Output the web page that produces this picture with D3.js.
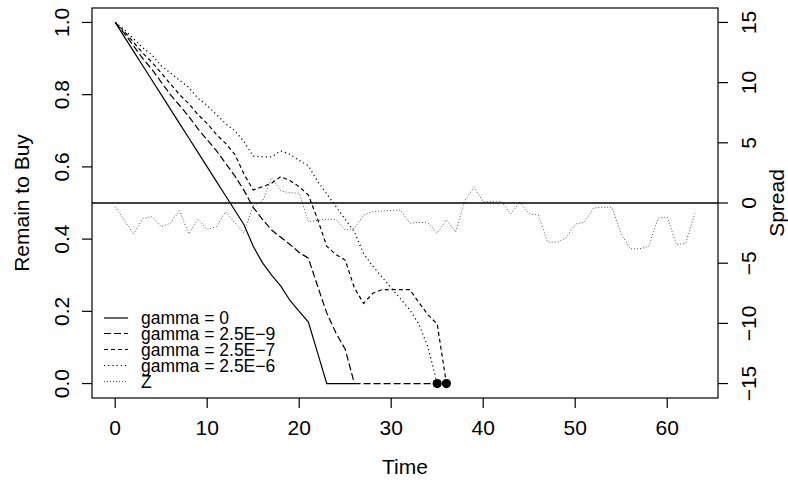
<!DOCTYPE html>
<html>
<head>
<meta charset="utf-8">
<script src="https://cdn.jsdelivr.net/npm/d3@7"></script>
<style>
  html, body { margin: 0; padding: 0; background: #fff; }
  svg { display: block; font-family: "Liberation Sans", Arial, Helvetica, sans-serif; }
</style>
</head>
<body>
<svg id="chart" width="788" height="480"></svg>
<script>
// ---- data ----
const xTicks = [0, 10, 20, 30, 40, 50, 60];
const leftTicks = [0, 0.2, 0.4, 0.6, 0.8, 1.0];
const rightTicks = [-15, -10, -5, 0, 5, 10, 15];

const gamma0 = [1, .96, .92, .88, .84, .80, .76, .72, .68, .64, .60, .56, .52, .48, .44, .38, .335, .30, .27, .23, .20, .17, .085, 0, 0, 0, 0];
const gamma25e9 = [1, .97, .935, .90, .87, .835, .80, .77, .74, .705, .675, .645, .61, .575, .535, .488, .455, .425, .405, .385, .363, .347, .27, .195, .14, .095, 0, 0, 0, 0, 0, 0, 0, 0, 0, 0];
const gamma25e7 = [1, .975, .945, .915, .89, .86, .83, .80, .775, .745, .72, .69, .665, .635, .58, .536, .545, .555, .573, .562, .545, .522, .455, .38, .357, .342, .265, .222, .25, .26, .26, .26, .26, .225, .19, .165, 0];
const gamma25e6 = [1, .98, .955, .93, .91, .88, .86, .84, .82, .79, .77, .745, .72, .70, .67, .63, .628, .628, .644, .635, .618, .603, .56, .525, .49, .455, .42, .36, .325, .295, .265, .235, .205, .165, .10, 0];
const spreadZ = [-0.3, -1.45, -2.58, -1.28, -1.14, -1.97, -1.69, -0.64, -2.58, -1.36, -2.19, -1.97, -0.72, -1.64, -2.5, -0.2, 0.1, 2.1, 1.0, 0.85, 0.8, -1.55, -1.45, -1.35, -1.35, -2.25, -2.1, -1.0, -0.72, -0.68, -0.62, -0.58, -1.68, -1.6, -1.65, -2.5, -1.41, -2.4, 0.2, 1.3, 0.11, 0.11, 0.11, -0.9, 0.08, -0.9, -1.0, -3.25, -3.25, -2.9, -1.75, -1.6, -0.4, -0.36, -0.36, -2.6, -3.8, -3.8, -3.6, -1.27, -1.15, -3.45, -3.35, -0.86];
const endPoints = [[35, 0], [36, 0]];
const legendLabels = ["gamma = 0", "gamma = 2.5E\u22129", "gamma = 2.5E\u22127", "gamma = 2.5E\u22126", "Z"];

// ---- layout ----
const box = { left: 92, right: 718, top: 8, bottom: 398 };
const svg = d3.select("#chart");
const fs = 21;

const x = d3.scaleLinear().domain([-2.52, 65.52]).range([box.left, box.right]);
const yL = d3.scaleLinear().domain([-0.04, 1.04]).range([box.bottom, box.top]);
const yR = d3.scaleLinear().domain([-16.2, 16.2]).range([box.bottom, box.top]);

const series = [
  { vals: gamma0, dash: null, w: 1.2, color: "#000" },
  { vals: gamma25e9, dash: "7,3", w: 1.2, color: "#000" },
  { vals: gamma25e7, dash: "4,3", w: 1.2, color: "#000" },
  { vals: gamma25e6, dash: "1.2,3", w: 1.2, color: "#000" },
];
const zStyle = { dash: "1,2", w: 1, color: "#555" };

// Z line (right axis)
const lineR = d3.line().x((d, i) => x(i)).y(d => yR(d));
svg.append("path").datum(spreadZ)
  .attr("d", lineR).attr("fill", "none")
  .attr("stroke", zStyle.color).attr("stroke-width", zStyle.w)
  .attr("stroke-dasharray", zStyle.dash);

// horizontal reference
svg.append("line")
  .attr("x1", box.left).attr("x2", box.right)
  .attr("y1", yL(0.5)).attr("y2", yL(0.5))
  .attr("stroke", "#000").attr("stroke-width", 1.3);

// gamma lines
const lineL = d3.line().x((d, i) => x(i)).y(d => yL(d));
series.forEach(s => {
  svg.append("path").datum(s.vals)
    .attr("d", lineL).attr("fill", "none")
    .attr("stroke", s.color).attr("stroke-width", s.w)
    .attr("stroke-dasharray", s.dash);
});

// end points
svg.selectAll("circle.end").data(endPoints).enter().append("circle")
  .attr("cx", d => x(d[0])).attr("cy", d => yL(d[1]))
  .attr("r", 4.6).attr("fill", "#000");

// box
svg.append("rect")
  .attr("x", box.left).attr("y", box.top)
  .attr("width", box.right - box.left).attr("height", box.bottom - box.top)
  .attr("fill", "none").attr("stroke", "#000").attr("stroke-width", 1.2);

// bottom axis
const gx = svg.append("g");
gx.selectAll("line").data(xTicks).enter().append("line")
  .attr("x1", d => x(d)).attr("x2", d => x(d))
  .attr("y1", box.bottom).attr("y2", box.bottom + 10)
  .attr("stroke", "#000").attr("stroke-width", 1.2);
gx.selectAll("text").data(xTicks).enter().append("text")
  .attr("x", d => x(d)).attr("y", 435)
  .attr("text-anchor", "middle").attr("font-size", fs)
  .text(d => d);
svg.append("text").attr("x", (box.left + box.right) / 2).attr("y", 474)
  .attr("text-anchor", "middle").attr("font-size", fs).text("Time");

// left axis
const gl = svg.append("g");
gl.selectAll("line").data(leftTicks).enter().append("line")
  .attr("x1", box.left - 10).attr("x2", box.left)
  .attr("y1", d => yL(d)).attr("y2", d => yL(d))
  .attr("stroke", "#000").attr("stroke-width", 1.2);
gl.selectAll("text").data(leftTicks).enter().append("text")
  .attr("transform", d => `translate(69,${yL(d)}) rotate(-90)`)
  .attr("text-anchor", "middle").attr("font-size", fs)
  .text(d => d3.format(".1f")(d));
svg.append("text")
  .attr("transform", `translate(29,${(box.top + box.bottom) / 2}) rotate(-90)`)
  .attr("text-anchor", "middle").attr("font-size", fs).text("Remain to Buy");

// right axis
const gr = svg.append("g");
gr.selectAll("line").data(rightTicks).enter().append("line")
  .attr("x1", box.right).attr("x2", box.right + 10)
  .attr("y1", d => yR(d)).attr("y2", d => yR(d))
  .attr("stroke", "#000").attr("stroke-width", 1.2);
gr.selectAll("text").data(rightTicks).enter().append("text")
  .attr("transform", d => `translate(756,${yR(d)}) rotate(-90)`)
  .attr("text-anchor", "middle").attr("font-size", fs)
  .text(d => d < 0 ? "\u2212" + Math.abs(d) : d);
svg.append("text")
  .attr("transform", `translate(784,${(box.top + box.bottom) / 2}) rotate(-90)`)
  .attr("text-anchor", "middle").attr("font-size", fs).text("Spread");

// legend
const legStyles = series.map(s => ({ dash: s.dash, w: s.w, color: s.color })).concat([zStyle]);
const legRows = [318, 333.5, 349.5, 365.5, 381.5];
const lg = svg.append("g");
legendLabels.forEach((lab, i) => {
  lg.append("line")
    .attr("x1", 104).attr("x2", 128)
    .attr("y1", legRows[i]).attr("y2", legRows[i])
    .attr("stroke", legStyles[i].color).attr("stroke-width", legStyles[i].w)
    .attr("stroke-dasharray", legStyles[i].dash);
  lg.append("text")
    .attr("x", 141).attr("y", legRows[i] + 6)
    .attr("font-size", 17.5).text(lab);
});
</script>
</body>
</html>
